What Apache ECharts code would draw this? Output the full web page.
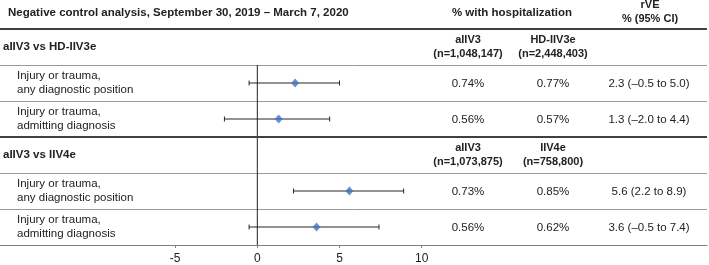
<!DOCTYPE html>
<html>
<head>
<meta charset="utf-8">
<script src="https://cdn.jsdelivr.net/npm/echarts@6/dist/echarts.min.js"></script>
<style>
html, body { margin: 0; padding: 0; background: #fff; }
#main { width: 709px; height: 265px; }
</style>
</head>
<body>
<div id="main"></div>
<script>
// table data
var comparisons = ['aIIV3 vs HD-IIV3e', 'aIIV3 vs IIV4e'];
var groupA = ['aIIV3\n(n=1,048,147)', 'aIIV3\n(n=1,073,875)'];
var groupB = ['HD-IIV3e\n(n=2,448,403)', 'IIV4e\n(n=758,800)'];
var outcomes = [
    'Injury or trauma,\nany diagnostic position',
    'Injury or trauma,\nadmitting diagnosis',
    'Injury or trauma,\nany diagnostic position',
    'Injury or trauma,\nadmitting diagnosis'
];
var outcomeGroup = [0, 0, 1, 1];
var pctA = ['0.74%', '0.56%', '0.73%', '0.56%'];
var pctB = ['0.77%', '0.57%', '0.85%', '0.62%'];
var rve = [2.3, 1.3, 5.6, 3.6];
var rveLow = [-0.5, -2.0, 2.2, -0.5];
var rveHigh = [5.0, 4.4, 8.9, 7.4];
var xTicks = [-5, 0, 5, 10];

var FONT = "'Liberation Sans', Arial, sans-serif";
var TXT = '#222';

// row slots: each comparison has a header row followed by its outcome rows
function headerRow(g) { return g * 3 + 0.5; }
function outcomeRow(i) { return outcomeGroup[i] * 3 + (i % 2) + 1.5; }

function fmt(v) {
    return (v < 0 ? '\u2013' : '') + Math.abs(v).toFixed(1);
}

var tableRows = [];
comparisons.forEach(function (c, g) {
    tableRows.push({ y: headerRow(g), kind: 'head', g: g });
});
outcomes.forEach(function (o, i) {
    tableRows.push({ y: outcomeRow(i), kind: 'row', i: i });
});

var colA = 468, colB = 553, colR = 649;

function txt(x, y, s, align, weight, size) {
    return {
        type: 'text', x: x, y: y,
        style: {
            text: s, fill: TXT, fontFamily: FONT, fontSize: size || 11.5,
            fontWeight: weight || 'normal', align: align || 'left',
            verticalAlign: 'middle', lineHeight: 14
        }
    };
}

var myChart = echarts.init(document.getElementById('main'));

option = {
    backgroundColor: '#fff',
    animation: false,
    grid: { left: 0, right: 2, top: 29, bottom: 20 },
    graphic: [
        txt(8, 13, 'Negative control analysis, September 30, 2019 \u2013 March 7, 2020', 'left', 'bold'),
        txt(512, 13, '% with hospitalization', 'center', 'bold', 11.5),
        txt(650, 12, 'rVE\n% (95% CI)', 'center', 'bold', 11)
    ],
    xAxis: {
        type: 'value',
        min: -15.65,
        max: 27.35,
        splitLine: { show: false },
        axisLine: { onZero: false, lineStyle: { color: '#7f7f7f', width: 1 } },
        axisTick: { customValues: xTicks, length: 3, lineStyle: { color: '#7f7f7f' } },
        axisLabel: {
            customValues: xTicks, color: TXT, fontFamily: FONT, fontSize: 12, margin: 8
        }
    },
    yAxis: {
        type: 'value',
        min: 0,
        max: 6,
        interval: 1,
        inverse: true,
        axisLine: { show: false },
        axisTick: { show: false },
        axisLabel: { show: false },
        splitLine: { lineStyle: { color: '#9a9a9a', width: 1 } }
    },
    series: [
        {
            // zero reference line, plus the heavy section rules
            type: 'line',
            silent: true,
            symbol: 'none',
            lineStyle: { color: '#222', width: 1 },
            data: [[0, 1], [0, 6]],
            markLine: {
                silent: true,
                symbol: 'none',
                label: { show: false },
                lineStyle: { color: '#404040', width: 2, type: 'solid' },
                data: [{ yAxis: 0 }, { yAxis: 3 }]
            }
        },
        {
            type: 'custom',
            clip: false,
            silent: true,
            data: rve.map(function (v, i) { return [rveLow[i], rveHigh[i], outcomeRow(i)]; }),
            renderItem: function (params, api) {
                var lo = api.coord([api.value(0), api.value(2)]);
                var hi = api.coord([api.value(1), api.value(2)]);
                var st = { stroke: '#262626', lineWidth: 1 };
                return {
                    type: 'group',
                    children: [
                        { type: 'line', shape: { x1: lo[0], y1: lo[1], x2: hi[0], y2: hi[1] }, style: st },
                        { type: 'line', shape: { x1: lo[0], y1: lo[1] - 2.5, x2: lo[0], y2: lo[1] + 2.5 }, style: st },
                        { type: 'line', shape: { x1: hi[0], y1: hi[1] - 2.5, x2: hi[0], y2: hi[1] + 2.5 }, style: st }
                    ]
                };
            }
        },
        {
            type: 'scatter',
            symbol: 'diamond',
            symbolSize: [8, 9],
            itemStyle: { color: '#4472C4' },
            data: rve.map(function (v, i) { return [v, outcomeRow(i)]; }),
            z: 5
        },
        {
            type: 'custom',
            clip: false,
            silent: true,
            data: tableRows.map(function (r) { return [0, r.y]; }),
            renderItem: function (params, api) {
                var r = tableRows[params.dataIndex];
                var y = api.coord([0, r.y])[1];
                var kids;
                if (r.kind === 'head') {
                    kids = [
                        txt(3, y, comparisons[r.g], 'left', 'bold'),
                        txt(colA, y, groupA[r.g], 'center', 'bold', 11),
                        txt(colB, y, groupB[r.g], 'center', 'bold', 11)
                    ];
                } else {
                    var i = r.i;
                    kids = [
                        txt(17, y, outcomes[i], 'left'),
                        txt(colA, y + 1, pctA[i], 'center'),
                        txt(colB, y + 1, pctB[i], 'center'),
                        txt(colR, y + 1, fmt(rve[i]) + ' (' + fmt(rveLow[i]) + ' to ' + fmt(rveHigh[i]) + ')', 'center')
                    ];
                }
                return { type: 'group', children: kids };
            }
        }
    ]
};

myChart.setOption(option);
window.onresize = myChart.resize;
</script>
</body>
</html>
